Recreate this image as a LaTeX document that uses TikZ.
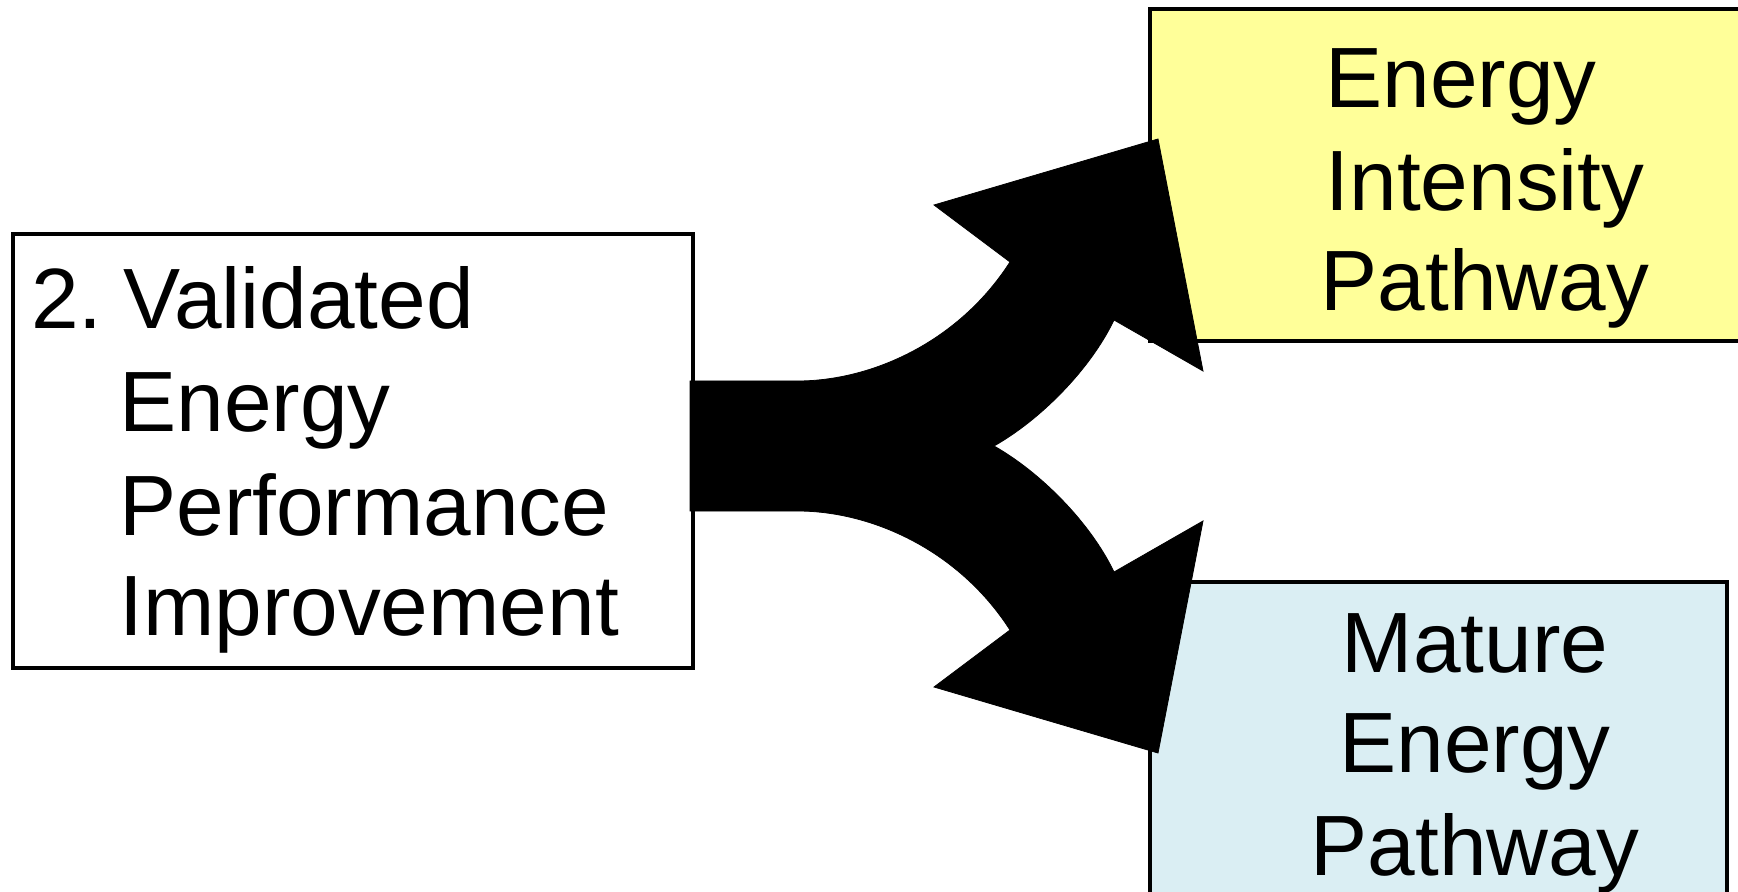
\documentclass[tikz,border=0pt]{standalone}
\usepackage{fontspec}
\setmainfont{Liberation Sans}
\definecolor{paleyellow}{HTML}{FFFF99}
\definecolor{paleblue}{HTML}{DAEEF3}
\begin{document}
\begin{tikzpicture}[x=0.5pt,y=-0.5pt,
  frame/.style={draw=black,line width=2.4pt,rectangle,inner sep=0pt},
  label/.style={inner sep=0pt,font=\fontsize{42.8}{51}\selectfont},
  splitarrow/.style={fill=black,draw=black,line width=0.4pt}]
\useasboundingbox (0,0) rectangle (1738,892);
\clip (0,0) rectangle (1738,892);
% boxes
\node[frame,fill=white,minimum width=340pt,minimum height=217pt] (vep) at (353,451) {};
\node[frame,fill=paleyellow,minimum width=305pt,minimum height=166pt] (eip) at (1455,175) {};
\node[frame,fill=paleblue,minimum width=288.5pt,minimum height=170pt] (mep) at (1438.5,752) {};
% split arrow
\draw[splitarrow]
  (690,381) -- (800,381)
  .. controls (875,380) and (960,340) .. (1010,262)
  -- (934,205) -- (1158,139) -- (1203,371) -- (1114,320)
  .. controls (1090,370) and (1040,420) .. (994,446)
  .. controls (1040,472) and (1090,522) .. (1114,572)
  -- (1203,521) -- (1158,753) -- (934,687) -- (1010,630)
  .. controls (960,552) and (875,512) .. (800,511)
  -- (690,511) -- cycle;
% texts
\node[label,anchor=base west] (t1) at (31,329) {2.\hspace{10.3pt}Validated};
\node[label,anchor=base west] (t2) at (119,432) {Energy};
\node[label,anchor=base west] (t3) at (119,535) {Performance};
\node[label,anchor=base west] (t4) at (119,635) {Improvement};
\node[label,anchor=base] (y1) at (1461,107.5) {Energy};
\node[label,anchor=base] (y2) at (1485,210.6) {Intensity};
\node[label,anchor=base] (y3) at (1485,310.4) {Pathway};
\node[label,anchor=base] (b1) at (1475,672) {Mature};
\node[label,anchor=base] (b2) at (1475,772.5) {Energy};
\node[label,anchor=base] (b3) at (1475,875.6) {Pathway};
\end{tikzpicture}
\end{document}
